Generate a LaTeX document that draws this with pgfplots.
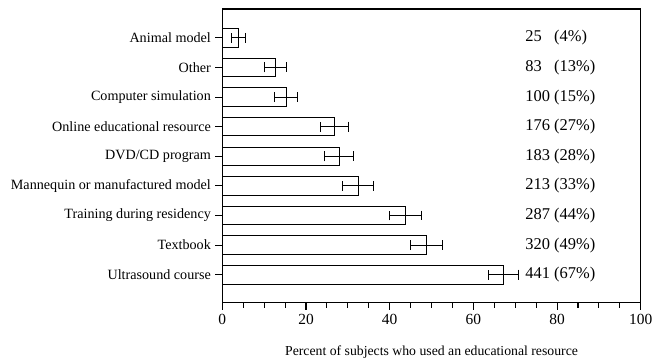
\documentclass[border=0pt]{standalone}
\usepackage{pgfplots}
\pgfplotsset{compat=1.18}
\usepackage{fontspec}
\setmainfont{Liberation Serif}
\newlength{\numw}
\begin{document}
\settowidth{\numw}{\fontsize{16.5}{18}\selectfont 100}
\begin{tikzpicture}
\begin{axis}[
  name=ax,
  scale only axis,
  width=420pt, height=295pt,
  xbar,
  bar width=18.5pt,
  xmin=0, xmax=100,
  ymin=-0.95, ymax=8.975,
  xtick={0,20,40,60,80,100},
  minor xtick={5,10,15,25,30,35,45,50,55,65,70,75,85,90,95},
  ytick={0,1,2,3,4,5,6,7,8},
  yticklabels={Ultrasound course,Textbook,Training during residency,Mannequin or manufactured model,DVD/CD program,Online educational resource,Computer simulation,Other,Animal model},
  tick align=outside,
  xtick pos=bottom, ytick pos=left,
  major tick length=7pt,
  minor tick length=5pt,
  tick style={black, line width=1.1pt},
  axis line style={line width=1.2pt},
  /pgf/number format/assume math mode=true,
  xticklabel style={font=\fontsize{15.5}{17}\selectfont, yshift=-1pt},
  yticklabel style={font=\fontsize{14.2}{16}\selectfont, xshift=-1pt},
  xlabel={Percent of subjects who used an educational resource},
  xlabel style={font=\fontsize{13.8}{15}\selectfont, yshift=-14pt},
  clip=false,
]
\addplot[draw=black, fill=white, line width=0.8pt,
  error bars/.cd, x dir=both, x explicit,
  error mark options={rotate=90, mark size=5pt, line width=0.8pt},
  error bar style={line width=0.8pt}]
  coordinates {
   (67.1,0) +- (3.6,0)
   (48.7,1) +- (3.8,0)
   (43.7,2) +- (3.8,0)
   (32.4,3) +- (3.6,0)
   (27.9,4) +- (3.4,0)
   (26.8,5) +- (3.4,0)
   (15.2,6) +- (2.8,0)
   (12.6,7) +- (2.6,0)
   (3.8,8) +- (1.6,0)
  };
\begin{scope}[every node/.style={anchor=west, font=\fontsize{16.5}{18}\selectfont, inner sep=0pt}]
\node at (axis cs:72.4,8) {\makebox[\numw][l]{25} (4\%)};
\node at (axis cs:72.4,7) {\makebox[\numw][l]{83} (13\%)};
\node at (axis cs:72.4,6) {\makebox[\numw][l]{100} (15\%)};
\node at (axis cs:72.4,5) {\makebox[\numw][l]{176} (27\%)};
\node at (axis cs:72.4,4) {\makebox[\numw][l]{183} (28\%)};
\node at (axis cs:72.4,3) {\makebox[\numw][l]{213} (33\%)};
\node at (axis cs:72.4,2) {\makebox[\numw][l]{287} (44\%)};
\node at (axis cs:72.4,1) {\makebox[\numw][l]{320} (49\%)};
\node at (axis cs:72.4,0) {\makebox[\numw][l]{441} (67\%)};
\end{scope}
\end{axis}
\pgfresetboundingbox
\path[use as bounding box] ([xshift=-220.7pt,yshift=-58pt]ax.south west) rectangle ([xshift=15.3pt,yshift=9pt]ax.north east);
\end{tikzpicture}
\end{document}
